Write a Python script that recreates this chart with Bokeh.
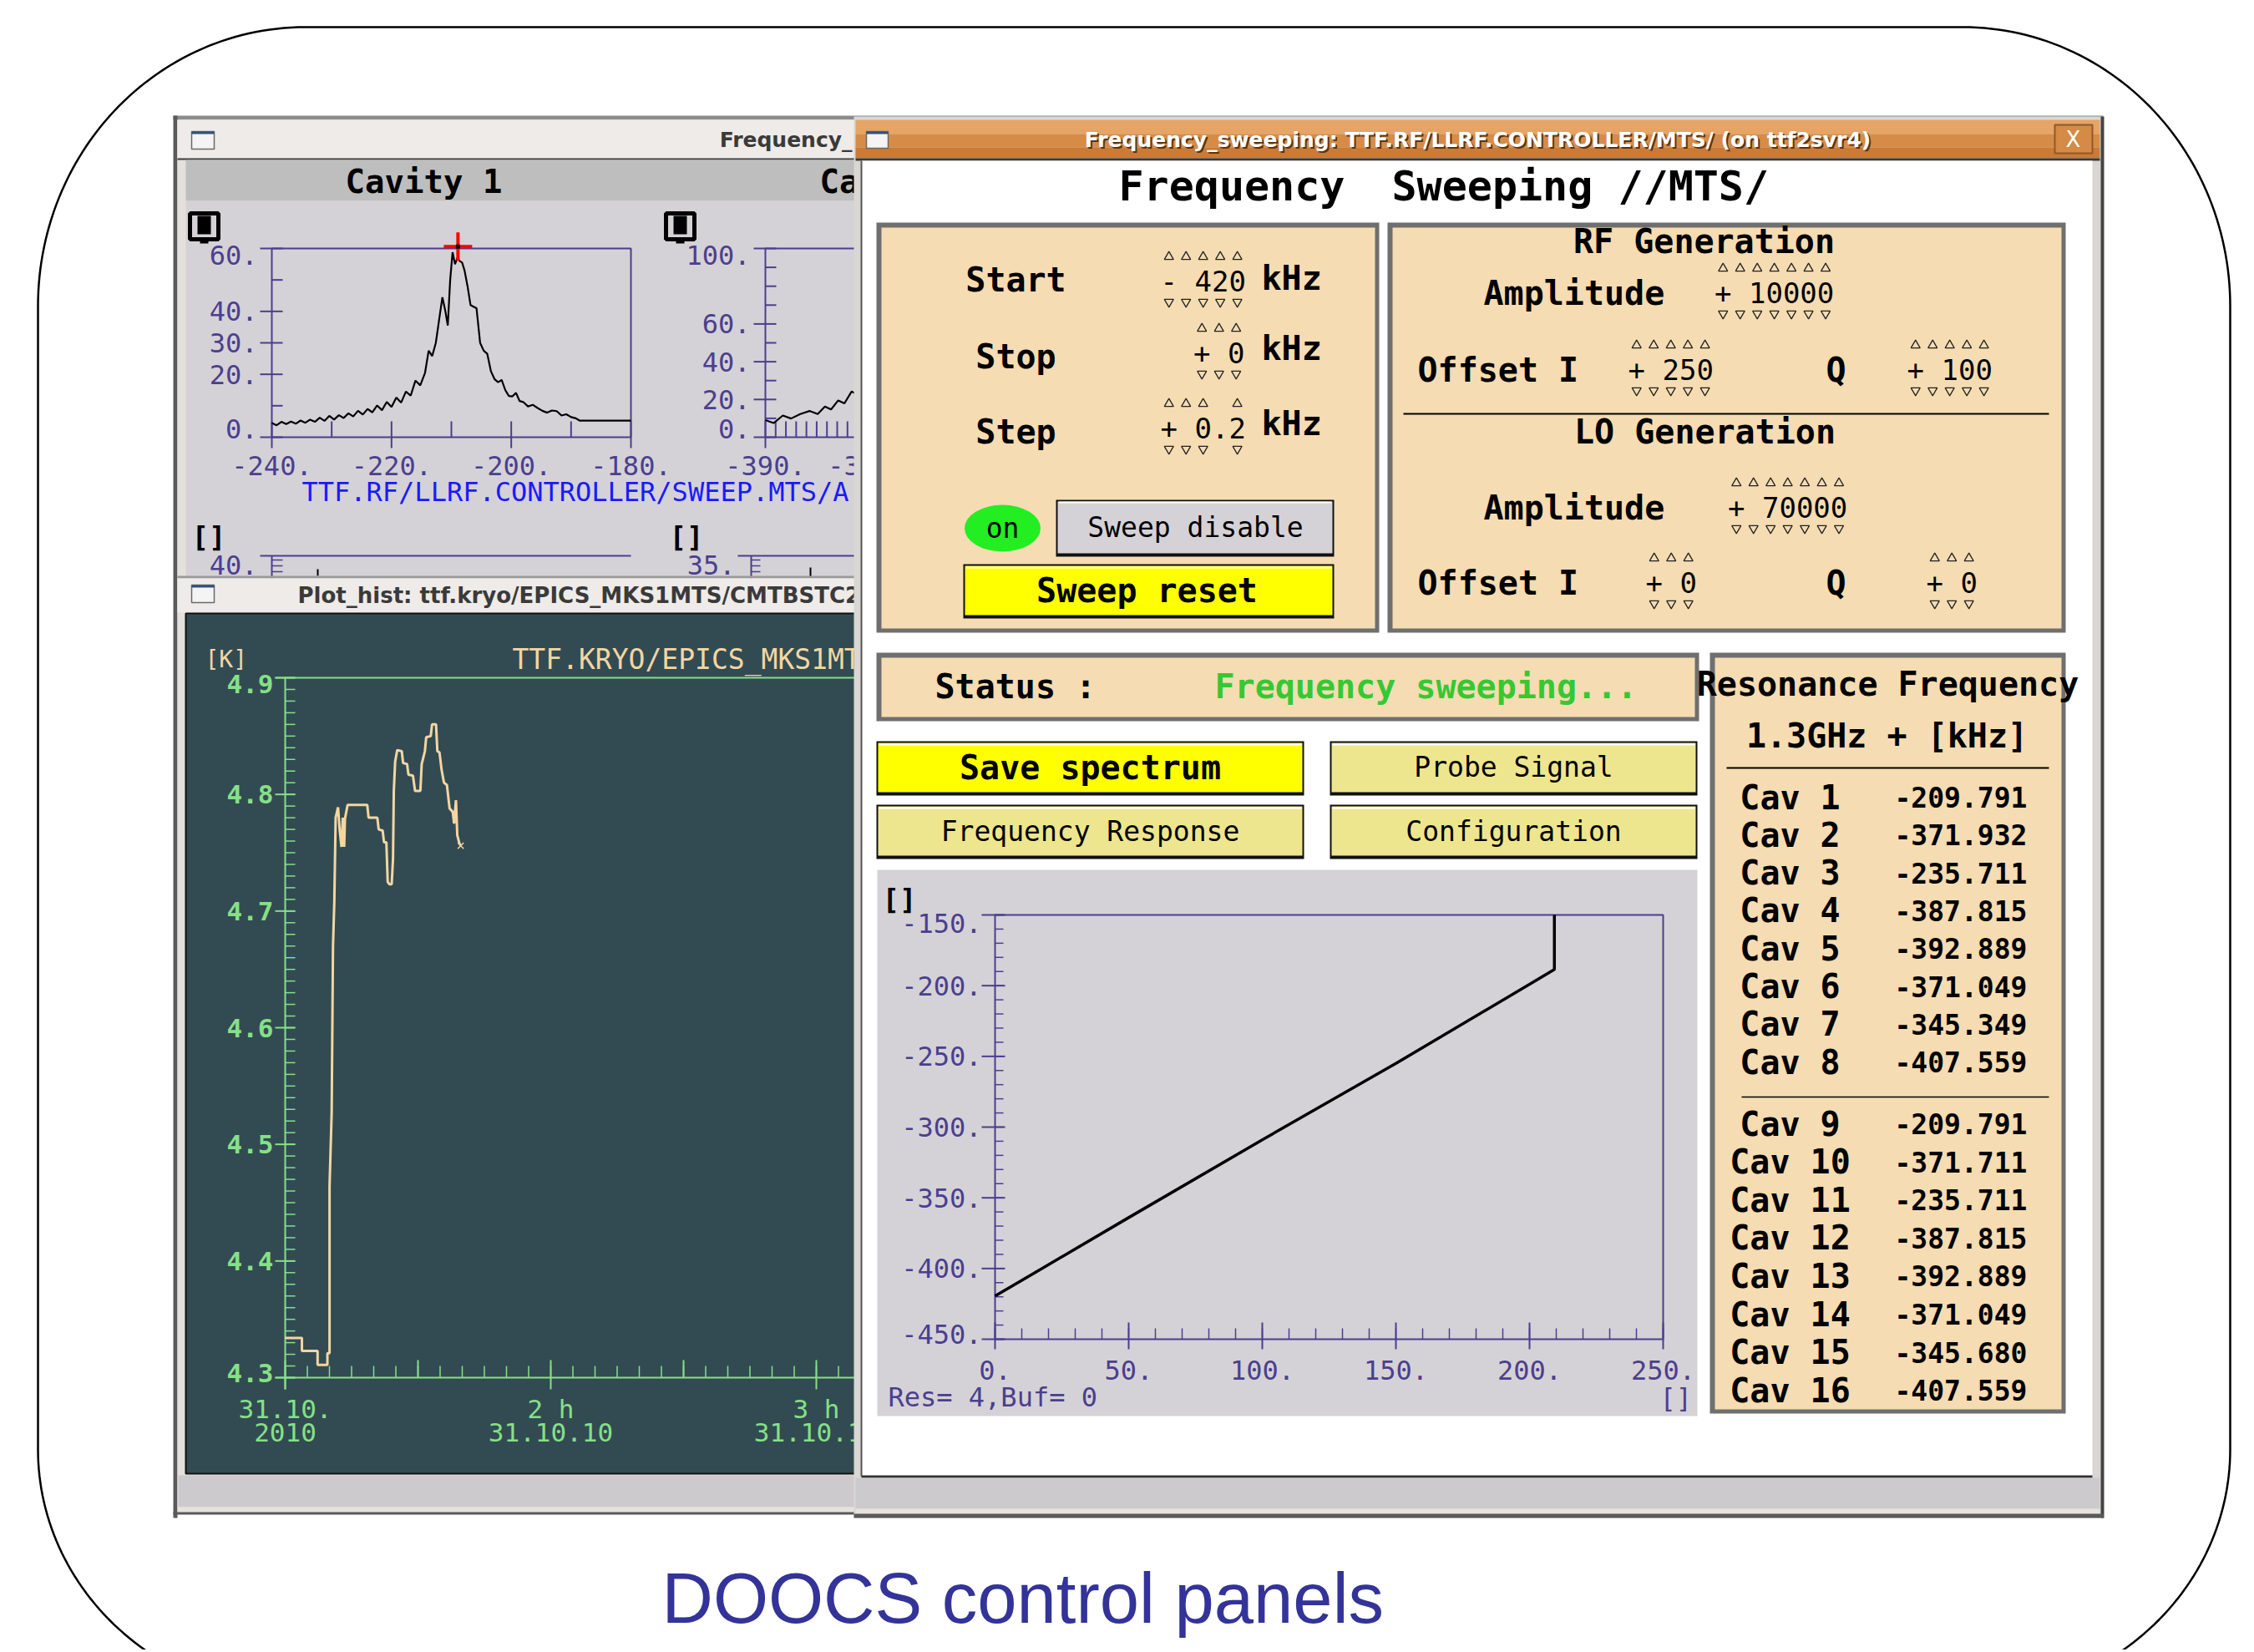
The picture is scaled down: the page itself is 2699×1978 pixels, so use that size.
import numpy as np
from bokeh.plotting import figure
from bokeh.models import Range1d
from bokeh.core.properties import value
from bokeh.embed import file_html
from bokeh.resources import INLINE

# ---------------- DATA ----------------
# Cavity 1 resonance curve (kHz offset, amplitude)
cav1_khz = [-240.0, -239.2, -238.4, -237.6, -236.8, -236.0, -235.2, -234.4, -233.6, -232.8,
            -232.0, -231.2, -230.4, -229.6, -228.8, -228.0, -227.2, -226.4, -225.6, -224.8,
            -224.0, -223.2, -222.4, -221.6, -220.8, -220.0, -219.2, -218.4, -217.6, -216.8,
            -216.0, -215.2, -214.4, -213.8, -213.2, -212.6, -212.0, -211.5, -211.0, -210.6,
            -210.2, -209.8, -209.4, -209.0, -208.6, -208.2, -207.8, -207.3, -206.8, -206.3,
            -205.8, -205.2, -204.6, -204.0, -203.4, -202.8, -202.2, -201.6, -201.0, -200.4,
            -199.8, -199.2, -198.6, -198.0, -197.2, -196.4, -195.6, -194.8, -194.0, -193.2,
            -192.4, -191.6, -190.8, -190.0, -189.2, -188.6, -180.0]
cav1_amp = [4.5, 3.8, 4.9, 4.2, 5.0, 4.3, 5.3, 4.6, 5.6, 4.9,
            6.2, 5.2, 6.8, 5.6, 7.0, 6.1, 7.6, 6.6, 8.4, 7.2,
            9.0, 7.9, 10.1, 8.6, 11.2, 9.6, 12.6, 11.0, 14.5, 13.2,
            18.0, 16.5, 20.5, 27.5, 25.8, 30.0, 38.0, 44.5, 40.0, 35.5,
            50.0, 58.8, 55.0, 57.0, 56.0, 55.5, 53.0, 48.0, 42.0, 41.5,
            41.0, 30.0, 27.5, 26.5, 21.0, 18.5, 17.5, 18.2, 15.0, 13.1,
            13.0, 14.1, 11.5, 11.2, 9.8, 10.3, 9.3, 8.4, 7.8, 8.5,
            8.3, 6.9, 7.3, 6.4, 6.0, 5.3, 5.3]
cav1_peak_khz = [-208.9]
cav1_peak_amp = [60.6]

# Cavity 2 curve (visible part only)
cav2_khz = [-390.0, -389.2, -388.3, -387.5, -386.6, -385.7, -384.9, -384.2, -383.6, -382.9,
            -382.3, -381.6, -381.3]
cav2_amp = [9.1, 7.5, 11.5, 9.9, 12.3, 13.9, 12.3, 16.3, 14.7, 19.5, 17.9, 24.2, 23.4]

# Temperature history (hours, Kelvin)
temp_hours = [1.000, 1.063, 1.063, 1.122, 1.122, 1.159, 1.159, 1.167, 1.167, 1.175,
              1.180, 1.185, 1.190, 1.199, 1.205, 1.212, 1.217, 1.222, 1.225, 1.235,
              1.309, 1.314, 1.347, 1.352, 1.367, 1.372, 1.381, 1.386, 1.392, 1.401,
              1.406, 1.409, 1.414, 1.422, 1.439, 1.444, 1.459, 1.464, 1.481, 1.489,
              1.509, 1.514, 1.526, 1.531, 1.548, 1.553, 1.568, 1.573, 1.581, 1.589,
              1.598, 1.609, 1.619, 1.631, 1.636, 1.643, 1.648, 1.656, 1.661]
temp_kelvin = [4.334, 4.334, 4.323, 4.323, 4.311, 4.311, 4.321, 4.321, 4.464, 4.527,
               4.670, 4.708, 4.780, 4.789, 4.770, 4.755, 4.780, 4.755, 4.779, 4.791,
               4.791, 4.780, 4.780, 4.770, 4.769, 4.759, 4.759, 4.725, 4.723, 4.723,
               4.745, 4.803, 4.828, 4.838, 4.837, 4.827, 4.826, 4.817, 4.816, 4.803,
               4.803, 4.826, 4.837, 4.849, 4.850, 4.860, 4.860, 4.837, 4.836, 4.821,
               4.810, 4.808, 4.788, 4.785, 4.775, 4.795, 4.765, 4.758, 4.756]

# Frequency sweep trace (step index, kHz)
sweep_index = [0, 50, 100, 150, 200, 209.3, 209.3]
sweep_freq = [-419.5, -364.0, -309.0, -255.0, -199.0, -188.5, -150.0]

# Resonance frequency table
cav_names = ["Cav 1", "Cav 2", "Cav 3", "Cav 4", "Cav 5", "Cav 6", "Cav 7", "Cav 8",
             "Cav 9", "Cav 10", "Cav 11", "Cav 12", "Cav 13", "Cav 14", "Cav 15", "Cav 16"]
res_khz = ["-209.791", "-371.932", "-235.711", "-387.815", "-392.889", "-371.049", "-345.349", "-407.559",
           "-209.791", "-371.711", "-235.711", "-387.815", "-392.889", "-371.049", "-345.680", "-407.559"]

# Tick values
cav1_yticks = [0, 20, 30, 40, 60]
cav1_yminor = [10, 50]
cav1_xticks = [-240, -220, -200, -180]
cav1_xminor = [-230, -210, -190]
cav2_yticks = [0, 20, 40, 60, 100]
cav2_yminor = [10, 30, 50, 70, 80, 90]
cav2_xticks = [-390, -380]
cav2_xminor = [-389, -388, -387, -386, -385, -384, -383, -382, -381]
temp_yticks = [4.3, 4.4, 4.5, 4.6, 4.7, 4.8, 4.9]
temp_xticks = [1, 2, 3]
temp_xlabel_top = ["31.10.", "2 h", "3 h"]
temp_xlabel_bot = ["2010", "31.10.10", "31.10.10"]
sweep_yticks = [-450, -400, -350, -300, -250, -200, -150]
sweep_xticks = [0, 50, 100, 150, 200, 250]

# ---------------- CANVAS ----------------
W, H = 2696, 1975
p = figure(width=W, height=H, x_range=Range1d(0, W), y_range=Range1d(H, 0),
           output_backend="svg", toolbar_location=None, min_border=0,
           x_axis_location=None, y_axis_location=None)
p.grid.visible = False
p.outline_line_color = None
p.background_fill_color = "white"
p.border_fill_color = "white"

MONO = "DejaVu Sans Mono"
SANS = "DejaVu Sans"
AX = "#4b3f8f"
GRN = "#86e086"
WHEAT = "#f5dcb2"
CURVE_T = "#f3d6a2"


def box(x0, y0, x1, y1, fill, line=None, lw=1):
    p.quad(left=[x0], right=[x1], top=[y0], bottom=[y1], fill_color=fill,
           line_color=line, line_width=lw)


def txt(x, y, s, size, color="black", font=MONO, bold=False, align="left", base="middle"):
    p.text(x=[x], y=[y], text=[s], text_font=value(font), text_font_size=value(f"{size}px"),
           text_color=color, text_font_style="bold" if bold else "normal",
           text_align=align, text_baseline=base)


def segs(x0, y0, x1, y1, color, lw=1):
    x0 = np.atleast_1d(np.asarray(x0, float)); y0 = np.atleast_1d(np.asarray(y0, float))
    x1 = np.atleast_1d(np.asarray(x1, float)); y1 = np.atleast_1d(np.asarray(y1, float))
    n = max(len(x0), len(y0), len(x1), len(y1))
    f = lambda a: list(np.resize(a, n))
    p.segment(x0=f(x0), y0=f(y0), x1=f(x1), y1=f(y1), line_color=color, line_width=lw)


def lin(s0, s1, t0, t1):
    return lambda v: t0 + (np.asarray(v, float) - s0) * (t1 - t0) / (s1 - s0)


def sub(xs, ys, xt, yt):
    return p.subplot(x_source=Range1d(*xs), y_source=Range1d(*ys),
                     x_target=Range1d(*xt), y_target=Range1d(*yt))


def panel(x0, y0, x1, y1):
    box(x0, y0, x1, y1, "#6f6f6f")
    box(x0 + 6, y0 + 6, x1 - 5, y1 - 5, WHEAT)


def button(x0, y0, x1, y1, fill):
    box(x0 - 2, y0 - 2, x1 + 2, y1 + 4, "#111111")
    box(x0, y0, x1, y1, fill)
    segs(x0 + 1, y0 + 2, x1 - 1, y0 + 2, "#ffffff", 2)


def field(xl, y, s, size=34):
    cw = 0.602 * size
    txt(xl, y, s, size)
    xs = [xl + (i + 0.5) * cw for i, c in enumerate(s) if c != "."]
    p.scatter(xs, [y - 29] * len(xs), marker="triangle", size=11, fill_color=None,
              line_color="#222222", line_width=1.3)
    p.scatter(xs, [y + 25] * len(xs), marker="inverted_triangle", size=11, fill_color=None,
              line_color="#222222", line_width=1.3)


def win_icon(x0, y0, x1, y1):
    box(x0, y0, x1, y1, "#f4f4f4", "#6a6a6a", 1.5)
    box(x0, y0, x1, y0 + 3, "#33507a")


# ---------------- SLIDE OUTLINE ----------------
t = np.linspace(0, np.pi / 2, 60)
ox = np.concatenate([365 - 320 * np.sin(t), 365 - 320 * np.cos(t),
                     2350 + 320 * np.sin(t), 2350 + 320 * np.cos(t)])
oy = np.concatenate([1735 + 300 * np.cos(t), 366 - 334 * np.sin(t),
                     366 - 334 * np.cos(t), 1735 + 300 * np.sin(t)])
p.line(list(ox), list(oy), line_color="black", line_width=2.5)

# ---------------- LEFT WINDOWS ----------------
box(207, 138, 2518, 143, "#8c8c8c")
box(207, 138, 212, 1817, "#5a5a5a")
box(212, 143, 1024, 1812, "#e4e1dc")
# top-left window title bar
box(212, 143, 1024, 189, "#eeebe8")
box(212, 189, 1024, 191, "#3c3c3c")
win_icon(229, 157, 256, 178)
txt(1020, 167, "Frequency_", 25, "#3a3a3a", SANS, True, "right")
# header band + plot area
box(222, 191, 1024, 240, "#bebebe")
box(222, 240, 1024, 690, "#d4d2d6")
txt(507, 217, "Cavity 1", 39, "black", MONO, True, "center")
txt(981, 217, "Cavity 2", 39, "black", MONO, True, "left")

# [■] icons
for x0 in (224, 794):
    box(x0 + 3, 255, x0 + 37, 286, None, "black", 5)
    box(x0 + 12, 258, x0 + 28, 280, "black")
    box(x0 + 15, 286, x0 + 25, 291, "black")

# ---- Cavity 1 plot
mx1 = lin(-240, -180, 325, 755)
my1 = lin(0, 60, 523, 297)
box(325, 297, 755, 523, None, AX, 2)
segs(311, my1(cav1_yticks), 338, my1(cav1_yticks), AX, 2)
segs(325, my1(cav1_yminor), 338, my1(cav1_yminor), AX, 2)
segs(mx1(cav1_xticks), 504, mx1(cav1_xticks), 536, AX, 2)
segs(mx1(cav1_xminor), 504, mx1(cav1_xminor), 523, AX, 2)
for v in cav1_yticks:
    txt(308, float(np.clip(my1(v), 305, 513)), f"{v}.", 32, AX, MONO, False, "right")
for v in cav1_xticks:
    txt(float(mx1(v)), 557, f"{v}.", 32, AX, MONO, False, "center")
s1 = sub((-240, -180), (0, 60), (325, 755), (523, 297))
s1.line(cav1_khz, cav1_amp, line_color="black", line_width=2.2)
s1.scatter(cav1_peak_khz, cav1_peak_amp, marker="cross", size=34, line_color="#ff0000", line_width=4)
s1.scatter(cav1_peak_khz, cav1_peak_amp, marker="square", size=5, fill_color="black", line_color=None)

# ---- Cavity 2 plot (partly hidden)
mx2 = lin(-390, -355, 916, 1346)
my2 = lin(0, 100, 523, 297)
box(916, 297, 1346, 523, None, AX, 2)
segs(902, my2(cav2_yticks), 929, my2(cav2_yticks), AX, 2)
segs(916, my2(cav2_yminor), 929, my2(cav2_yminor), AX, 2)
segs(mx2(cav2_xticks), 504, mx2(cav2_xticks), 536, AX, 2)
segs(mx2(cav2_xminor), 504, mx2(cav2_xminor), 523, AX, 2)
for v in cav2_yticks:
    txt(898, float(np.clip(my2(v), 305, 513)), f"{v}.", 32, AX, MONO, False, "right")
for v in cav2_xticks:
    txt(float(mx2(v)), 557, f"{v}.", 32, AX, MONO, False, "center")
s2 = sub((-390, -355), (0, 100), (916, 1346), (523, 297))
s2.line(cav2_khz, cav2_amp, line_color="black", line_width=2.2)

txt(361, 588, "TTF.RF/LLRF.CONTROLLER/SWEEP.MTS/A", 32, "#1a1aff", MONO, False, "left")
txt(229, 642, "[]", 34, "black", MONO, True, "left")
txt(801, 642, "[]", 34, "black", MONO, True, "left")
# lower plots (cut)
txt(308, 676, "40.", 32, AX, MONO, False, "right")
segs(311, 665, 755, 665, AX, 2)
segs(325, 665, 325, 692, AX, 2)
segs(325, [670, 677, 684], 338, [670, 677, 684], AX, 1.5)
segs(380, 681, 380, 689, "black", 2)
txt(880, 676, "35.", 32, AX, MONO, False, "right")
segs(883, 665, 1024, 665, AX, 2)
segs(899, 665, 899, 692, AX, 2)
segs(899, [670, 677, 684], 910, [670, 677, 684], AX, 1.5)
segs(970, 679, 970, 690, "black", 2)

# ---- lower-left window (Plot_hist)
box(212, 689, 1024, 692, "#9a9a9a")
box(212, 692, 1024, 733, "#eeebe8")
win_icon(229, 700, 256, 721)
txt(356, 712, "Plot_hist: ttf.kryo/EPICS_MKS1MTS/CMTBSTC2", 26, "#3a3a3a", SANS, True, "left")
box(222, 734, 1024, 1764, "#324b52", "#111111", 2)
box(213, 1766, 1024, 1804, "#cdcacd")
box(213, 1804, 1024, 1810, "#e6e3de")
box(207, 1810, 1024, 1813, "#5a5a5a")

txt(245, 789, "[K]", 28, CURVE_T, MONO, False, "left")
txt(613, 789, "TTF.KRYO/EPICS_MKS1MTS/CMTBSTC2", 33, CURVE_T, MONO, False, "left")

mxt = lin(1, 2, 341, 659)
myt = lin(4.3, 4.9, 1649, 811)
segs(329, 811, 1024, 811, GRN, 2)
segs(329, 1649, 1024, 1649, GRN, 2)
segs(341, 811, 341, 1663, GRN, 2)
ymin_t = myt(np.arange(430, 491) / 100.0)
segs(341, ymin_t, 353, ymin_t, GRN, 1.5)
segs(329, myt(temp_yticks), 353, myt(temp_yticks), GRN, 2)
for v in temp_yticks:
    txt(327, float(np.clip(myt(v), 818, 1643)), f"{v:.1f}", 31, GRN, MONO, True, "right")
xmin_t = mxt(1 + np.arange(0, 27) / 12.0)
segs(xmin_t, 1635, xmin_t, 1649, GRN, 1.5)
xhalf = mxt([1.5, 2.5])
segs(xhalf, 1628, xhalf, 1649, GRN, 2)
segs(mxt(temp_xticks), 1628, mxt(temp_xticks), 1663, GRN, 2)
for v, a, b in zip(temp_xticks, temp_xlabel_top, temp_xlabel_bot):
    txt(float(mxt(v)), 1686, a, 31, GRN, MONO, False, "center")
    txt(float(mxt(v)), 1714, b, 31, GRN, MONO, False, "center")
st = sub((1, 2), (4.3, 4.9), (341, 659), (1649, 811))
st.line(temp_hours, temp_kelvin, line_color=CURVE_T, line_width=3)
st.scatter(temp_hours[-1:], temp_kelvin[-1:], marker="x", size=10, line_color=CURVE_T, line_width=1.5)

# ---------------- RIGHT WINDOW ----------------
box(1022, 139, 2518, 1817, "#d9d7d3")
box(2515, 139, 2519, 1817, "#444444")
box(1024, 143, 2514, 160, "#e6a466")
box(1024, 160, 2514, 176, "#d68c47")
box(1024, 176, 2514, 189, "#c97b37")
box(1024, 189, 2514, 192, "#3a3a3a")
box(1031, 192, 2505, 1767, "white")
box(1030, 192, 1032, 1767, "#555555")
box(1031, 1766, 2505, 1769, "#333333")
box(1024, 1769, 2514, 1806, "#cdcacd")
box(1024, 1806, 2514, 1812, "#e6e3de")
box(1022, 1812, 2518, 1817, "#5a5a5a")
win_icon(1037, 157, 1063, 177)
title = "Frequency_sweeping: TTF.RF/LLRF.CONTROLLER/MTS/ (on ttf2svr4)"
txt(1771, 169, title, 25, "#5b3310", SANS, True, "center")
txt(1769, 167, title, 25, "white", SANS, True, "center")
box(2460, 149, 2505, 183, "#d58a46", "#8a5a30", 2)
txt(2482, 166, "X", 26, "white", SANS, False, "center")

txt(1339, 222, "Frequency", 50, "black", MONO, True, "left")
txt(1666, 222, "Sweeping //MTS/", 50, "black", MONO, True, "left")

# left parameter panel
panel(1049, 266, 1651, 757)
txt(1216, 334, "Start", 40, "black", MONO, True, "center")
txt(1216, 426, "Stop", 40, "black", MONO, True, "center")
txt(1216, 516, "Step", 40, "black", MONO, True, "center")
field(1389, 336, "- 420")
field(1428.5, 422, "+ 0")
field(1389, 512, "+ 0.2")
txt(1510, 332, "kHz", 40, "black", MONO, True, "left")
txt(1510, 416, "kHz", 40, "black", MONO, True, "left")
txt(1510, 506, "kHz", 40, "black", MONO, True, "left")
p.ellipse(x=[1200], y=[632], width=91, height=56, fill_color="#22ee22", line_color=None)
txt(1200, 632, "on", 33, "black", MONO, False, "center")
box(1264, 598, 1597, 666, "#111111")
box(1266, 600, 1595, 662, "#d4d2d6")
segs(1267, 601, 1594, 601, "white", 2)
txt(1431, 631, "Sweep disable", 33, "black", MONO, False, "center")
button(1155, 677, 1595, 736, "#ffff00")
txt(1373, 706, "Sweep reset", 40, "black", MONO, True, "center")

# right generation panel
panel(1661, 266, 2473, 757)
txt(2040, 288, "RF Generation", 40, "black", MONO, True, "center")
txt(1776, 350, "Amplitude", 40, "black", MONO, True, "left")
field(2052.5, 350, "+ 10000")
txt(1697, 442, "Offset I", 40, "black", MONO, True, "left")
field(1949, 442, "+ 250")
txt(2198, 442, "Q", 40, "black", MONO, True, "center")
field(2283, 442, "+ 100")
segs(1680, 495, 2453, 495, "black", 2)
txt(2041, 516, "LO Generation", 40, "black", MONO, True, "center")
txt(1776, 607, "Amplitude", 40, "black", MONO, True, "left")
field(2068.5, 607, "+ 70000")
txt(1697, 697, "Offset I", 40, "black", MONO, True, "left")
field(1970, 697, "+ 0")
txt(2198, 697, "Q", 40, "black", MONO, True, "center")
field(2306, 697, "+ 0")

# status
panel(1049, 781, 2034, 863)
txt(1119, 821, "Status :", 40, "black", MONO, True, "left")
txt(1454, 821, "Frequency sweeping...", 40, "#34c934", MONO, True, "left")

# buttons
button(1051, 889, 1559, 948, "#ffff00")
txt(1305, 918, "Save spectrum", 40, "black", MONO, True, "center")
button(1594, 889, 2030, 948, "#ede68e")
txt(1812, 918, "Probe Signal", 33, "black", MONO, False, "center")
button(1051, 965, 1559, 1024, "#ede68e")
txt(1305, 995, "Frequency Response", 33, "black", MONO, False, "center")
button(1594, 965, 2030, 1024, "#ede68e")
txt(1812, 995, "Configuration", 33, "black", MONO, False, "center")

# resonance table
panel(2047, 781, 2473, 1692)
txt(2260, 818, "Resonance Frequency", 40, "black", MONO, True, "center")
txt(2259, 880, "1.3GHz + [kHz]", 40, "black", MONO, True, "center")
segs(2067, 919, 2453, 919, "black", 2)
segs(2085, 1313, 2453, 1313, "black", 1.5)
for i, (nm, vv) in enumerate(zip(cav_names, res_khz)):
    yy = 954 + i * 45.3 if i < 8 else 1345 + (i - 8) * 45.6
    txt(2143, yy, nm, 40, "black", MONO, True, "center")
    txt(2268, yy, vv, 33, "black", MONO, True, "left")

# sweep plot
box(1050, 1041, 2032, 1695, "#d4d2d6")
txt(1056, 1076, "[]", 34, "black", MONO, True, "left")
mxs = lin(0, 250, 1191, 1991)
mys = lin(-450, -150, 1603, 1095)
box(1191, 1095, 1991, 1603, None, AX, 2)
yminor_s = mys(np.arange(-450, -149, 10))
segs(1191, yminor_s, 1201, yminor_s, AX, 1.5)
segs(1175, mys(sweep_yticks), 1203, mys(sweep_yticks), AX, 2)
xminor_s = mxs(np.arange(0, 251, 10))
segs(xminor_s, 1590, xminor_s, 1603, AX, 1.5)
segs(mxs(sweep_xticks), 1583, mxs(sweep_xticks), 1615, AX, 2)
for v in sweep_yticks:
    txt(1175, float(np.clip(mys(v), 1105, 1597)), f"{v}.", 32, AX, MONO, False, "right")
for v in sweep_xticks:
    txt(float(mxs(v)), 1640, f"{v}.", 32, AX, MONO, False, "center")
txt(1063, 1672, "Res= 4,Buf= 0", 32, AX, MONO, False, "left")
txt(1987, 1673, "[]", 32, AX, MONO, False, "left")
ss = sub((0, 250), (-450, -150), (1191, 1991), (1603, 1095))
ss.line(sweep_index, sweep_freq, line_color="black", line_width=3.5)

# ---------------- CAPTION ----------------
txt(792, 1913, "DOOCS control panels", 85, "#333399", "Liberation Sans", False, "left", "middle")

open("out.html", "w").write(file_html(p, INLINE, "DOOCS control panels"))
